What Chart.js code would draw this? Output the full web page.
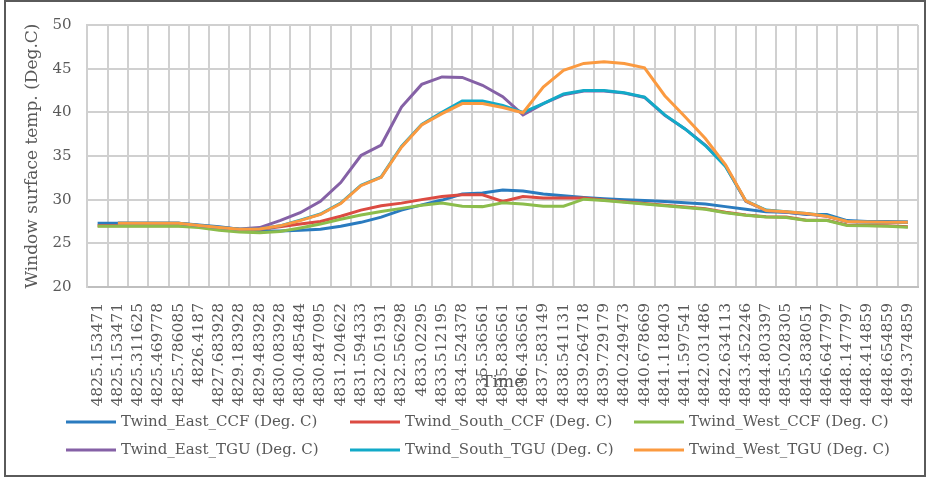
<!DOCTYPE html>
<html>
<head>
<meta charset="utf-8">
<script src="https://cdn.jsdelivr.net/npm/chart.js@4.4.1/dist/chart.umd.min.js"></script>
<style>
  body { margin: 0; background: #fff; overflow: hidden; }
  #wrap { position: relative; width: 927px; height: 477px; }
  #frame { position: absolute; left: 4px; top: 0; width: 918px; height: 473px; border: 2px solid #5a5a5a; pointer-events: none; }
</style>
</head>
<body>
<div id="wrap">
  <canvas id="chart" width="927" height="477"></canvas>
  <div id="frame"></div>
</div>
<script>
// Time stamps on the category axis
const timeLabels = [
    '4825.153471', '4825.153471', '4825.311625', '4825.469778', '4825.786085',
    '4826.4187', '4827.683928', '4829.183928', '4829.483928', '4830.083928',
    '4830.485484', '4830.847095', '4831.204622', '4831.594333', '4832.051931',
    '4832.556298', '4833.02295', '4833.512195', '4834.524378', '4835.536561',
    '4835.836561', '4836.436561', '4837.583149', '4838.541131', '4839.264718',
    '4839.729179', '4840.249473', '4840.678669', '4841.118403', '4841.597541',
    '4842.031486', '4842.634113', '4843.452246', '4844.803397', '4845.028305',
    '4845.838051', '4846.647797', '4848.147797', '4848.414859', '4848.654859',
    '4849.374859'
];

const eastCCF = [27.3, 27.3, 27.3, 27.3, 27.3, 27.1, 26.9, 26.6, 26.4, 26.4,
    26.5, 26.6, 26.95, 27.4, 28.0, 28.8, 29.4, 29.95, 30.65, 30.75,
    31.1, 31.0, 30.65, 30.45, 30.25, 30.1, 30.0, 29.9, 29.8, 29.65,
    29.5, 29.2, 28.9, 28.6, 28.55, 28.3, 28.3, 27.6, 27.5, 27.5, 27.45];

const southCCF = [27.0, 27.0, 27.0, 27.0, 27.0, 26.9, 26.7, 26.5, 26.6, 26.9,
    27.2, 27.5, 28.1, 28.8, 29.3, 29.6, 30.0, 30.35, 30.55, 30.55,
    29.8, 30.35, 30.2, 30.2, 30.2, 29.95, 29.75, 29.55, 29.35, 29.15,
    28.95, 28.55, 28.25, 28.05, 28.0, 27.65, 27.65, 27.1, 27.05, 27.0, 26.9];

const westCCF = [26.95, 26.95, 26.95, 26.95, 26.95, 26.8, 26.5, 26.3, 26.2, 26.35,
    26.75, 27.2, 27.75, 28.25, 28.65, 29.0, 29.35, 29.6, 29.25, 29.2,
    29.65, 29.5, 29.25, 29.25, 30.05, 29.9, 29.7, 29.5, 29.3, 29.1,
    28.9, 28.5, 28.2, 28.0, 27.95, 27.6, 27.6, 27.05, 27.0, 26.95, 26.85];

const eastTGU = [null, 27.3, 27.3, 27.3, 27.3, 27.05, 26.8, 26.65, 26.8, 27.6,
    28.5, 29.8, 31.95, 35.05, 36.25, 40.6, 43.2, 44.05, 44.0, 43.1,
    41.8, 39.7, 41.0, 42.0, 42.45, 42.45, 42.2, 41.7, 39.65, 38.1,
    36.25, 33.85, 29.8, 28.75, 28.55, 28.35, 28.1, 27.5, 27.45, 27.4, 27.4];

const southTGU = [null, 27.3, 27.3, 27.3, 27.3, 27.05, 26.8, 26.6, 26.65, 27.0,
    27.65, 28.35, 29.6, 31.65, 32.6, 36.1, 38.6, 40.0, 41.3, 41.3,
    40.8, 40.0, 41.0, 42.1, 42.5, 42.5, 42.25, 41.75, 39.7, 38.1,
    36.2, 33.8, 29.85, 28.8, 28.6, 28.4, 28.15, 27.5, 27.45, 27.4, 27.4];

const westTGU = [null, 27.3, 27.3, 27.3, 27.3, 27.05, 26.8, 26.6, 26.65, 27.0,
    27.6, 28.3, 29.55, 31.6, 32.55, 36.0, 38.55, 39.85, 41.0, 41.0,
    40.55, 39.95, 42.9, 44.8, 45.6, 45.8, 45.6, 45.1, 41.9, 39.5,
    37.0, 34.0, 29.85, 28.75, 28.6, 28.4, 28.1, 27.5, 27.45, 27.4, 27.4];

const seriesNames = [
    'Twind_East_CCF (Deg. C)', 'Twind_South_CCF (Deg. C)', 'Twind_West_CCF (Deg. C)',
    'Twind_East_TGU (Deg. C)', 'Twind_South_TGU (Deg. C)', 'Twind_West_TGU (Deg. C)'
];
const seriesColors = ['#2a7bbf', '#dc4b42', '#8cbd4c', '#8561a6', '#12aac8', '#fb9a40'];
const seriesValues = [eastCCF, southCCF, westCCF, eastTGU, southTGU, westTGU];

const yTicks = { min: 20, max: 50, step: 5 };

const serif = '"DejaVu Serif", "Liberation Serif", serif';
const textGrey = '#595959';
const gridGrey = '#d0d0d0';

// legend drawn in a fixed 3 x 2 grid like the spreadsheet legend
const legendCols = [66, 350, 634];
const legendRows = [422, 450];
const gridLegend = {
    id: 'gridLegend',
    afterDraw(chart) {
        const ctx = chart.ctx;
        ctx.save();
        ctx.font = '15px ' + serif;
        ctx.textBaseline = 'middle';
        chart.data.datasets.forEach((ds, i) => {
            const x = legendCols[i % 3];
            const y = legendRows[Math.floor(i / 3)];
            ctx.strokeStyle = ds.borderColor;
            ctx.lineWidth = 3;
            ctx.beginPath();
            ctx.moveTo(x, y);
            ctx.lineTo(x + 50, y);
            ctx.stroke();
            ctx.fillStyle = textGrey;
            ctx.fillText(ds.label, x + 55, y);
        });
        ctx.restore();
    }
};

const datasets = seriesNames.map((name, i) => ({
    label: name,
    data: seriesValues[i],
    borderColor: seriesColors[i],
    backgroundColor: seriesColors[i],
    borderWidth: 3,
    pointRadius: 0,
    tension: 0,
    // later series sit on top, as in the original
    order: seriesNames.length - i
}));

const ctx = document.getElementById('chart').getContext('2d');
new Chart(ctx, {
    type: 'line',
    data: { labels: timeLabels, datasets: datasets },
    options: {
        responsive: false,
        animation: false,
        layout: { padding: { left: 5, right: 9, top: 25, bottom: 69 } },
        plugins: {
            legend: { display: false },
            tooltip: { enabled: false }
        },
        scales: {
            x: {
                offset: true,
                // the last rotated label fits inside the frame, no extra room needed
                afterFit: (scale) => { scale.paddingRight = 0; },
                grid: { offset: true, color: gridGrey, lineWidth: 2, drawTicks: false },
                border: { color: '#bfbfbf', width: 2 },
                ticks: {
                    autoSkip: false,
                    minRotation: 90,
                    maxRotation: 90,
                    padding: 16,
                    color: textGrey,
                    font: { family: serif, size: 15.5 }
                },
                title: {
                    display: true,
                    text: 'Time',
                    color: textGrey,
                    font: { family: serif, size: 17 },
                    // pulled up so it sits over the tick labels, like the original
                    padding: { top: -49.7, bottom: 14.8 }
                }
            },
            y: {
                min: yTicks.min,
                max: yTicks.max,
                grid: { color: gridGrey, lineWidth: 2, drawTicks: false },
                border: { color: gridGrey, width: 2 },
                ticks: {
                    stepSize: yTicks.step,
                    padding: 16,
                    color: textGrey,
                    font: { family: serif, size: 15 }
                },
                title: {
                    display: true,
                    text: 'Window surface temp. (Deg.C)',
                    color: textGrey,
                    font: { family: serif, size: 17 },
                    padding: { top: 17, bottom: -6 }
                }
            }
        }
    },
    plugins: [gridLegend]
});
</script>
</body>
</html>
